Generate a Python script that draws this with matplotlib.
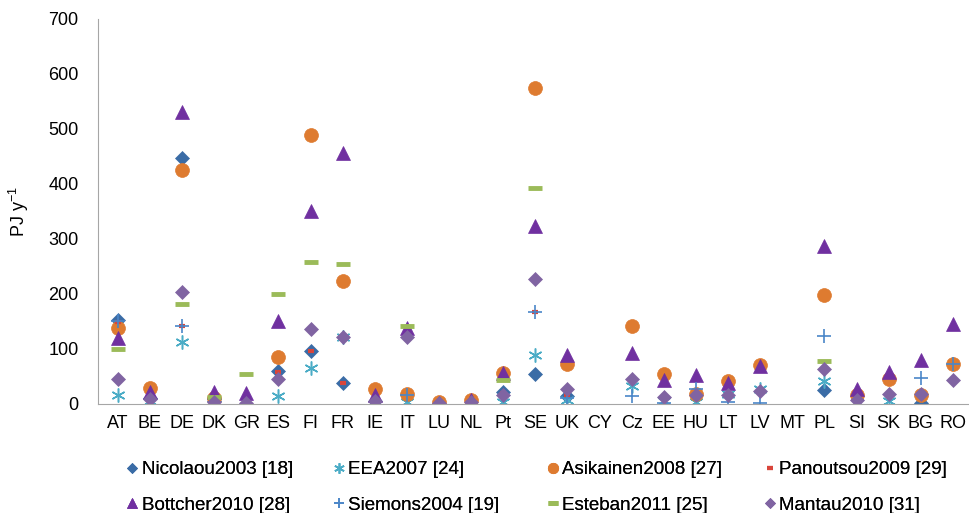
#!/usr/bin/python

import numpy as np
import matplotlib
matplotlib.use("Agg")
import matplotlib.pyplot as plt

nan = np.nan

countries = ["AT", "BE", "DE", "DK", "GR", "ES", "FI", "FR", "IE", "IT", "LU", "NL", "Pt", "SE",
             "UK", "CY", "Cz", "EE", "HU", "LT", "LV", "MT", "PL", "SI", "SK", "BG", "RO"]

#            AT   BE   DE   DK   GR   ES   FI   FR   IE   IT   LU   NL   Pt   SE   UK   CY   Cz   EE   HU   LT   LV   MT   PL   SI   SK   BG   RO
nicolaou = [152, 10, 448, 6, nan, 60, 96, 38, 6, nan, nan, nan, 22, 55, 14, nan, nan, nan, nan, nan, nan, nan, 25, nan, nan, 2, nan]
eea = [16, 5, 112, 3, nan, 15, 66, 121, 0, 4, nan, 2, 3, 89, 8, nan, 32, 5, 4, 18, 27, nan, 41, 3, 5, nan, nan]
asikainen = [138, 29, 425, 10, nan, 86, 489, 224, 27, 19, 4, 7, 56, 574, 72, nan, 142, 54, 18, 42, 71, nan, 198, 17, 45, 17, 73]
panoutsou = [149, 10, 142, 11, 2, 58, 96, 38, 7, nan, nan, nan, 20, 168, 17, nan, nan, nan, nan, nan, nan, nan, nan, nan, nan, nan, nan]
bottcher = [120, 22, 531, 22, 20, 151, 350, 457, 17, 138, 2, 7, 57, 324, 89, nan, 93, 44, 53, 39, 69, nan, 287, 27, 58, 80, 145]
siemons = [150, nan, 142, nan, nan, nan, nan, nan, nan, 16, nan, nan, nan, 168, 10, nan, 15, 2, 27, 3, 1, nan, 124, nan, nan, 47, 73]
esteban = [100, nan, 181, 13, 55, 200, 258, 255, nan, 142, nan, nan, 44, 392, nan, nan, nan, nan, nan, nan, nan, nan, 78, nan, nan, nan, nan]
mantau = [45, 9, 204, 4, 2, 46, 137, 121, 6, 122, 2, 3, 16, 227, 27, nan, 45, 12, 16, 16, 23, nan, 64, 7, 19, 18, 43]

labels = ["Nicolaou2003 [18]", "EEA2007 [24]", "Asikainen2008 [27]", "Panoutsou2009 [29]",
          "Bottcher2010 [28]", "Siemons2004 [19]", "Esteban2011 [25]", "Mantau2010 [31]"]


def main():
    plt.rcParams["font.family"] = ["Liberation Sans", "DejaVu Sans"]
    plt.rcParams["mathtext.default"] = "regular"
    fig = plt.figure(figsize=(9.69, 5.13), dpi=100)
    ax = fig.add_axes([0.101, 0.2125, 0.899, 0.7505])
    x = np.arange(len(countries))

    # (values, marker, color, size, edge width) in legend order
    series = [
        (nicolaou, "D", "#3A6CA6", 7, 0.5),
        (eea, (6, 2, 0), "#4BACC6", 10, 1.1),
        (asikainen, "o", "#DE7B30", 10, 0.5),
        (panoutsou, "_", "#D9453B", 5, 3),
        (bottcher, "^", "#7030A0", 10, 0.5),
        (siemons, "+", "#4A86C8", 10, 1.2),
        (esteban, "_", "#9BBB59", 10, 3.5),
        (mantau, "D", "#8064A2", 7, 0.5),
    ]
    handles = []
    for (vals, marker, color, size, mew), label in zip(series, labels):
        h, = ax.plot(x, vals, linestyle="none", marker=marker, color=color,
                     markersize=size, markeredgewidth=mew, label=label)
        handles.append(h)

    ax.set_xlim(-0.62, len(countries) - 0.5)
    ax.set_ylim(0, 700)
    ax.set_yticks(range(0, 701, 100))
    ax.set_xticks(x)
    ax.set_xticklabels(countries)
    ax.tick_params(length=0, labelsize=13, pad=8)
    ax.tick_params(axis="y", pad=14)
    for s in ["top", "right"]:
        ax.spines[s].set_visible(False)
    ax.spines["left"].set_color("#A6A6A6")
    ax.spines["bottom"].set_color("#A6A6A6")
    ax.set_ylabel("PJ y$^{-1}$", fontsize=13, labelpad=12)

    # one small legend per column so the columns sit where they do in the original
    col_x = [0.121, 0.334, 0.555, 0.779]
    for i, cx in enumerate(col_x):
        hs = [handles[i], handles[i + 4]]
        ls = [labels[i], labels[i + 4]]
        leg = fig.legend(handles=hs, labels=ls, loc="center left",
                         bbox_to_anchor=(cx, 0.0497), frameon=False, fontsize=13.5,
                         handlelength=0.6, handletextpad=0.2, borderpad=0,
                         labelspacing=1.0, markerscale=0.75)
        fig.add_artist(leg)

    fig.savefig("out.png", dpi=100)


if __name__ == "__main__":
    main()
